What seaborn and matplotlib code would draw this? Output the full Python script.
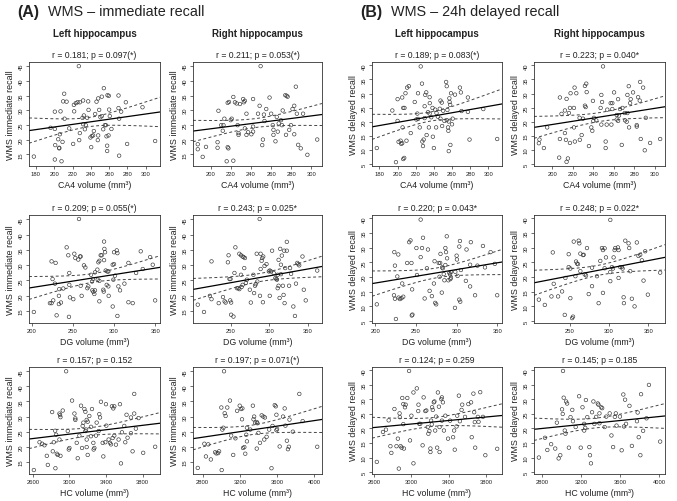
import matplotlib
matplotlib.use("Agg")
import matplotlib.pyplot as plt
import numpy as np
import pandas as pd
import seaborn as sns

# (volume, score) pairs
ca4_left_immediate = [
    (226.9, 45.0), (254.2, 37.5), (258.2, 35.1), (259.6, 34.9), (210.9, 35.6), (252.0, 34.6),
    (209.8, 33.0), (213.5, 32.9), (248.0, 34.0), (246.2, 32.9), (221.5, 31.8), (223.6, 32.4),
    (225.5, 32.7), (228.0, 32.7), (231.6, 33.3), (237.1, 33.0), (278.2, 32.7), (270.2, 35.0),
    (200.7, 29.5), (206.9, 29.6), (221.8, 29.6), (237.5, 30.1), (249.1, 30.1), (260.0, 30.2),
    (270.2, 30.7), (296.4, 31.0), (211.3, 27.1), (230.9, 27.4), (232.4, 28.2), (236.0, 27.4),
    (250.5, 27.6), (252.0, 28.0), (244.7, 28.7), (270.9, 27.1), (260.7, 28.0), (273.1, 29.5),
    (196.0, 24.0), (231.6, 25.2), (234.5, 24.9), (255.3, 24.9), (256.4, 24.9), (200.7, 23.6),
    (216.4, 23.8), (233.5, 23.5), (253.5, 23.5), (262.5, 23.6), (243.3, 22.9), (206.2, 21.8),
    (228.0, 22.2), (239.6, 20.7), (241.1, 21.2), (242.5, 21.4), (257.1, 21.1), (259.3, 21.4),
    (248.0, 21.4), (227.3, 19.8), (204.4, 20.1), (247.6, 19.8), (209.1, 19.2), (220.7, 18.5),
    (201.1, 18.1), (257.8, 17.9), (205.5, 17.2), (205.5, 17.0), (240.4, 17.4), (279.6, 18.5),
    (310.2, 19.5), (257.8, 16.1), (177.8, 14.2), (200.7, 13.2), (208.0, 12.6), (270.9, 14.5),
]
ca4_right_immediate = [
    (186.9, 18.4), (186.9, 16.7), (191.8, 14.1), (195.1, 17.5), (206.6, 19.1), (206.6, 17.2),
    (207.5, 29.8), (210.2, 24.9), (212.5, 24.9), (211.8, 23.0), (213.4, 27.1), (215.7, 12.6),
    (216.7, 17.4), (217.4, 17.0), (216.7, 32.5), (218.0, 32.8), (219.7, 26.6), (220.7, 27.1),
    (222.3, 12.8), (222.3, 34.5), (223.9, 32.7), (225.6, 32.3), (226.6, 24.9), (227.5, 22.2),
    (227.5, 21.6), (228.9, 32.1), (232.1, 33.8), (232.8, 32.7), (233.8, 33.2), (233.8, 23.8),
    (235.4, 21.6), (237.0, 22.5), (235.4, 28.8), (240.3, 21.8), (242.0, 22.7), (242.0, 24.4),
    (242.0, 33.8), (246.9, 28.8), (248.5, 31.5), (249.5, 45.0), (251.8, 20.0), (251.1, 18.1),
    (252.8, 28.5), (253.4, 26.3), (255.1, 30.4), (258.4, 34.3), (260.0, 28.8), (261.6, 24.9),
    (262.3, 23.3), (262.3, 21.6), (264.3, 19.4), (265.6, 27.7), (266.6, 22.7), (267.5, 25.5),
    (269.8, 26.6), (270.8, 24.9), (271.5, 29.9), (274.1, 35.1), (275.4, 34.9), (276.4, 34.6),
    (274.8, 21.6), (278.0, 23.3), (279.7, 24.9), (281.3, 30.4), (283.0, 31.5), (283.0, 21.8),
    (284.6, 38.0), (285.6, 28.8), (286.9, 18.2), (289.5, 17.0), (291.8, 28.8), (296.1, 14.8),
    (305.9, 20.0),
]
dg_left_immediate = [
    (257.6, 45.1), (202.8, 14.6), (224.3, 31.2), (229.2, 30.7), (225.5, 25.4), (228.4, 23.9),
    (226.3, 18.4), (224.3, 17.5), (222.3, 17.5), (230.4, 13.5), (233.2, 19.9), (233.2, 17.2),
    (235.7, 17.7), (233.6, 22.1), (238.5, 22.3), (242.6, 35.8), (244.6, 33.2), (245.8, 27.4),
    (245.8, 23.5), (246.6, 19.4), (245.4, 13.0), (250.7, 18.8), (251.9, 33.7), (253.1, 32.3),
    (256.7, 31.8), (258.8, 32.8), (259.6, 32.8), (259.6, 23.2), (260.8, 19.9), (263.6, 29.9),
    (265.3, 29.2), (267.7, 22.4), (268.9, 23.0), (272.2, 26.8), (273.4, 24.6), (274.6, 25.4),
    (273.8, 21.7), (275.0, 21.2), (277.0, 21.7), (276.2, 20.5), (277.0, 27.6), (279.9, 28.5),
    (281.1, 30.9), (282.3, 31.4), (280.3, 25.2), (282.3, 24.8), (282.3, 18.1), (283.9, 33.2),
    (285.1, 33.2), (287.1, 21.9), (287.6, 21.3), (288.0, 37.7), (288.4, 35.3), (289.2, 34.2),
    (288.0, 31.6), (290.0, 28.2), (292.0, 27.9), (293.2, 27.9), (293.2, 23.0), (291.2, 23.5),
    (293.6, 19.9), (299.3, 25.2), (300.1, 30.3), (298.5, 30.1), (300.1, 34.2), (303.4, 34.8),
    (304.2, 33.9), (301.3, 26.5), (298.5, 16.4), (304.2, 13.3), (305.4, 23.0), (307.4, 21.7),
    (312.7, 23.9), (317.6, 30.7), (317.6, 17.8), (322.8, 17.5), (326.9, 27.4), (332.5, 34.5),
    (335.0, 28.7), (343.9, 32.6), (347.1, 30.1), (350.0, 18.4),
]
dg_right_immediate = [
    (287.6, 45.1), (207.8, 17.0), (215.8, 14.6), (225.5, 31.2), (223.4, 19.9), (225.5, 18.8),
    (234.8, 17.5), (240.3, 19.5), (242.4, 18.1), (243.7, 17.7), (246.6, 30.9), (247.5, 33.2),
    (248.7, 25.4), (250.0, 25.4), (249.6, 18.4), (250.8, 17.7), (250.8, 13.7), (253.8, 13.1),
    (255.1, 27.4), (256.3, 35.8), (258.4, 22.4), (260.1, 22.4), (261.4, 22.1), (261.4, 33.7),
    (263.5, 33.2), (265.6, 32.8), (266.9, 32.6), (268.6, 32.3), (263.5, 26.8), (264.3, 22.8),
    (265.6, 23.5), (267.7, 29.0), (269.8, 24.1), (271.1, 25.2), (274.9, 21.9), (276.2, 17.7),
    (279.5, 26.8), (280.4, 20.8), (281.6, 23.2), (282.5, 23.7), (283.8, 33.7), (284.6, 24.6),
    (288.8, 33.7), (290.1, 31.4), (288.0, 19.9), (288.8, 28.7), (290.9, 32.3), (292.2, 32.8),
    (291.8, 17.8), (293.9, 29.7), (296.4, 30.3), (299.4, 27.9), (300.6, 28.2), (302.3, 27.9),
    (300.6, 19.9), (303.6, 34.7), (305.7, 27.4), (307.8, 25.7), (309.1, 25.4), (309.9, 25.2),
    (310.8, 22.4), (310.8, 26.8), (312.0, 31.7), (312.0, 23.2), (313.3, 19.2), (314.1, 35.3),
    (315.0, 27.0), (315.0, 30.1), (316.2, 33.1), (317.5, 23.2), (318.4, 20.2), (319.2, 34.7),
    (322.6, 34.7), (319.7, 17.5), (320.5, 29.0), (322.6, 37.6), (325.5, 23.2), (326.8, 29.0),
    (328.1, 27.1), (331.0, 16.4), (333.1, 13.3), (334.4, 23.9), (336.1, 30.7), (337.3, 30.3),
    (338.6, 29.9), (342.8, 32.8), (344.5, 21.9), (347.0, 18.4), (361.8, 28.2),
]
hc_left_immediate = [
    (2611, 12.3), (2673, 21.5), (2702, 21.0), (2727, 20.5), (2753, 17.0), (2764, 14.0),
    (2811, 31.5), (2818, 18.5), (2829, 21.5), (2844, 25.3), (2855, 24.0), (2862, 17.7),
    (2873, 17.3), (2847, 12.9), (2891, 31.0), (2898, 30.5), (2902, 29.8), (2891, 22.4),
    (2902, 17.0), (2927, 32.0), (2964, 45.0), (2982, 25.2), (2993, 19.1), (3000, 19.6),
    (3029, 35.3), (3055, 31.0), (3065, 29.4), (3065, 28.9), (3080, 21.3), (3091, 16.2),
    (3109, 23.7), (3127, 33.6), (3138, 19.6), (3145, 26.9), (3153, 28.0), (3164, 32.5),
    (3175, 31.6), (3175, 25.2), (3182, 25.7), (3189, 28.9), (3200, 28.3), (3189, 22.4),
    (3189, 19.9), (3200, 17.3), (3218, 30.2), (3236, 26.6), (3247, 32.5), (3236, 23.5),
    (3262, 21.3), (3265, 19.1), (3273, 19.6), (3291, 23.7), (3298, 28.0), (3320, 25.2),
    (3327, 30.8), (3335, 29.7), (3345, 34.9), (3364, 21.3), (3371, 16.8), (3393, 21.5),
    (3400, 34.1), (3404, 27.0), (3429, 22.4), (3444, 21.3), (3455, 20.8), (3465, 33.4),
    (3480, 32.7), (3491, 33.4), (3491, 23.7), (3473, 22.9), (3509, 20.7), (3538, 22.4),
    (3553, 34.1), (3564, 14.5), (3575, 24.8), (3600, 26.9), (3611, 21.5), (3625, 30.6),
    (3636, 23.0), (3673, 24.5), (3673, 29.7), (3691, 18.5), (3709, 31.0), (3727, 26.0),
    (3709, 37.5), (3756, 29.5), (3807, 18.0), (3938, 20.0),
]
hc_right_immediate = [
    (2747, 13.0), (2818, 21.0), (2835, 16.8), (2860, 20.8), (2888, 15.8), (2934, 18.2),
    (2948, 17.8), (2966, 17.9), (2977, 18.5), (3005, 12.3), (3001, 33.0), (3012, 25.7),
    (3023, 26.3), (3030, 45.0), (3037, 31.1), (3047, 30.2), (3065, 33.0), (3094, 35.3),
    (3107, 23.7), (3129, 17.3), (3153, 22.8), (3171, 31.9), (3199, 33.6), (3213, 32.5),
    (3228, 32.7), (3224, 29.1), (3235, 19.6), (3249, 19.9), (3259, 17.7), (3270, 24.0),
    (3277, 26.3), (3277, 21.8), (3313, 25.7), (3341, 33.6), (3348, 29.1), (3355, 30.0),
    (3365, 28.0), (3383, 28.2), (3390, 27.8), (3383, 19.4), (3401, 24.6), (3418, 21.3),
    (3436, 30.4), (3454, 30.0), (3471, 29.7), (3464, 22.4), (3489, 23.3), (3517, 25.7),
    (3542, 12.9), (3553, 26.9), (3577, 33.8), (3588, 33.4), (3595, 30.6), (3595, 25.5),
    (3602, 25.9), (3630, 20.1), (3666, 30.0), (3684, 32.7), (3692, 27.0), (3708, 22.0),
    (3719, 19.2), (3729, 20.0), (3736, 29.0), (3772, 25.0), (3842, 37.5), (3878, 28.5),
    (4035, 20.0),
]
ca4_left_delayed = [
    (225.5, 39.6), (253.5, 34.1), (254.2, 32.6), (268.7, 32.1), (269.8, 30.4), (226.9, 33.5),
    (210.5, 32.1), (212.4, 32.6), (208.7, 30.1), (200.0, 28.0), (205.1, 28.6), (222.5, 30.1),
    (230.5, 29.5), (231.6, 30.4), (235.3, 28.7), (258.9, 30.1), (263.3, 29.6), (257.1, 28.3),
    (247.3, 27.5), (248.7, 26.8), (218.9, 27.0), (229.8, 25.5), (235.5, 26.6), (238.5, 24.9),
    (241.5, 24.3), (246.5, 24.6), (257.3, 27.0), (258.0, 26.0), (277.5, 28.6), (206.2, 24.9),
    (207.6, 24.9), (194.2, 24.0), (221.8, 22.9), (233.5, 23.4), (235.3, 22.9), (242.9, 23.1),
    (250.2, 23.9), (254.9, 24.2), (200.0, 20.3), (220.7, 20.8), (222.5, 21.0), (229.8, 21.3),
    (237.1, 21.6), (244.4, 21.8), (251.6, 20.3), (254.2, 20.6), (256.4, 20.1), (247.3, 21.1),
    (260.7, 21.1), (270.5, 23.8), (277.5, 23.5), (294.5, 24.5), (205.5, 18.0), (224.4, 18.0),
    (234.5, 18.0), (242.5, 18.0), (249.1, 18.5), (255.6, 18.0), (256.0, 16.8), (260.0, 19.1),
    (214.5, 16.0), (232.0, 15.3), (238.9, 14.7), (203.3, 13.3), (201.1, 12.9), (204.0, 12.2),
    (205.1, 12.4), (209.8, 13.3), (227.3, 13.0), (228.7, 13.7), (228.0, 11.4), (240.0, 10.7),
    (256.4, 9.6), (258.2, 11.8), (279.3, 13.7), (309.8, 13.9), (177.1, 10.7), (207.3, 7.2),
    (206.2, 6.8), (198.2, 5.7),
]
ca4_right_delayed = [
    (249.5, 39.6), (285.7, 34.1), (221.8, 32.1), (231.9, 32.7), (233.2, 33.5), (274.6, 32.6),
    (288.6, 32.1), (217.9, 30.1), (223.5, 30.1), (233.6, 30.5), (247.9, 29.5), (260.3, 30.4),
    (273.3, 29.5), (278.8, 30.4), (207.5, 28.6), (214.0, 28.1), (248.6, 27.0), (264.2, 28.0),
    (257.0, 26.6), (258.6, 26.6), (276.5, 28.0), (275.9, 26.6), (283.7, 28.7), (285.3, 27.5),
    (239.7, 27.4), (212.4, 24.0), (217.3, 24.9), (221.2, 24.9), (231.9, 25.7), (232.6, 25.2),
    (216.3, 23.1), (209.1, 22.8), (247.2, 24.9), (253.7, 24.3), (258.6, 24.5), (266.1, 24.5),
    (268.4, 24.9), (270.7, 23.1), (273.3, 23.1), (262.9, 22.4), (265.1, 22.2), (226.7, 21.4),
    (230.0, 21.1), (240.7, 21.4), (240.1, 20.3), (243.0, 20.5), (262.9, 20.8), (264.2, 20.3),
    (271.0, 20.5), (272.6, 20.0), (291.2, 21.4), (195.1, 18.0), (221.2, 18.0), (238.1, 18.0),
    (239.1, 16.8), (247.9, 19.0), (253.1, 19.0), (257.7, 19.0), (274.9, 18.0), (282.4, 18.8),
    (282.4, 18.3), (228.7, 15.3), (212.4, 16.0), (207.5, 13.9), (213.4, 13.6), (217.3, 12.5),
    (222.1, 13.0), (226.9, 13.6), (187.6, 13.7), (187.0, 12.4), (191.9, 10.7), (235.8, 11.4),
    (252.1, 13.0), (252.1, 10.7), (267.8, 11.8), (286.3, 13.9), (290.2, 9.9), (295.4, 12.5),
    (305.2, 13.9), (206.8, 7.3), (215.3, 7.0), (214.0, 5.8),
]
dg_left_delayed = [
    (255.9, 39.6), (202.0, 10.7), (225.5, 5.7), (223.5, 28.5), (228.4, 27.7), (224.3, 23.9),
    (227.2, 20.2), (223.1, 13.8), (224.3, 12.6), (228.8, 13.0), (230.4, 12.5), (232.4, 12.8),
    (234.5, 13.3), (233.2, 17.8), (239.3, 24.8), (244.6, 24.8), (241.8, 31.9), (243.4, 32.5),
    (245.4, 15.8), (245.8, 7.2), (245.0, 6.9), (250.7, 29.9), (255.9, 26.8), (257.6, 29.9),
    (258.8, 33.4), (251.4, 20.7), (260.8, 12.7), (264.9, 29.4), (263.6, 23.0), (266.9, 15.3),
    (269.7, 13.5), (272.2, 17.8), (273.8, 11.2), (275.0, 10.7), (273.0, 25.4), (278.2, 24.8),
    (279.9, 24.8), (279.1, 20.1), (280.3, 27.9), (282.3, 23.3), (283.1, 23.0), (281.9, 14.7),
    (284.3, 21.0), (286.3, 29.9), (287.1, 28.5), (288.0, 33.9), (288.4, 26.4), (286.3, 24.1),
    (291.2, 21.4), (292.0, 20.9), (293.2, 21.7), (292.4, 19.3), (293.2, 19.8), (290.0, 18.9),
    (285.1, 18.9), (298.5, 21.8), (300.5, 26.0), (300.1, 27.3), (301.3, 20.4), (303.4, 30.4),
    (304.2, 32.3), (298.1, 9.5), (303.4, 12.3), (304.6, 11.6), (305.4, 22.4), (311.5, 18.7),
    (312.3, 29.4), (316.7, 24.2), (316.7, 16.8), (317.6, 31.9), (322.8, 13.8), (325.7, 23.9),
    (332.5, 30.6), (335.0, 23.3), (341.9, 28.5), (347.1, 24.5), (350.0, 13.8),
]
dg_right_delayed = [
    (210.8, 12.3), (218.4, 10.5), (226.8, 13.4), (228.5, 28.4), (229.7, 17.7), (235.2, 13.4),
    (240.3, 15.1), (243.7, 7.1), (248.7, 27.8), (248.7, 23.4), (250.8, 22.9), (250.8, 12.8),
    (253.0, 6.0), (254.2, 6.5), (255.1, 32.1), (258.0, 25.3), (259.3, 24.6), (260.5, 24.4),
    (261.4, 32.4), (262.2, 31.5), (263.5, 28.0), (263.5, 22.0), (266.9, 27.5), (267.7, 27.6),
    (269.0, 20.9), (270.7, 20.6), (271.9, 29.9), (274.1, 14.2), (278.3, 16.9), (278.3, 23.2),
    (284.6, 20.3), (257.2, 20.3), (244.5, 19.7), (286.7, 11.1), (288.8, 25.5), (290.9, 29.9),
    (292.2, 29.2), (294.3, 29.8), (294.3, 23.0), (292.2, 14.6), (296.0, 26.7), (301.5, 39.5),
    (301.5, 18.6), (301.5, 21.7), (303.6, 23.4), (304.9, 22.9), (305.7, 26.7), (307.8, 29.9),
    (307.0, 29.2), (311.2, 30.1), (312.0, 29.2), (312.0, 19.7), (314.1, 23.4), (316.2, 23.4),
    (317.1, 22.9), (318.4, 13.1), (318.8, 11.1), (320.5, 32.4), (324.7, 31.5), (325.5, 29.9),
    (326.8, 22.0), (328.9, 12.6), (332.3, 10.0), (335.2, 31.8), (337.3, 27.2), (339.5, 27.6),
    (341.6, 25.7), (343.7, 18.8), (345.8, 28.8), (349.2, 14.0), (364.8, 21.5),
]
hc_left_delayed = [
    (2629, 8.5), (2695, 18.8), (2727, 19.6), (2756, 22.8), (2775, 13.9), (2785, 11.6),
    (2818, 26.7), (2840, 13.9), (2855, 16.5), (2865, 6.2), (2873, 25.2), (2876, 23.9),
    (2884, 13.9), (2895, 13.4), (2902, 30.5), (2913, 28.4), (2913, 21.5), (2920, 13.1),
    (2931, 27.3), (2938, 28.2), (2956, 30.5), (2975, 39.8), (2985, 15.9), (3000, 24.4),
    (3022, 8.0), (3022, 32.4), (3058, 33.8), (3073, 26.0), (3076, 28.2), (3084, 21.6),
    (3095, 21.6), (3120, 14.2), (3131, 30.7), (3149, 26.0), (3160, 26.2), (3175, 20.5),
    (3182, 18.2), (3193, 19.1), (3204, 13.1), (3204, 11.9), (3211, 22.7), (3218, 21.4),
    (3222, 27.3), (3229, 26.4), (3240, 29.0), (3247, 29.3), (3255, 19.3), (3265, 24.1),
    (3276, 13.4), (3284, 32.4), (3295, 27.5), (3302, 11.9), (3302, 20.5), (3320, 30.1),
    (3327, 30.7), (3338, 29.0), (3327, 22.7), (3349, 19.3), (3364, 24.4), (3393, 16.5),
    (3415, 22.7), (3447, 17.0), (3458, 19.3), (3465, 12.7), (3484, 20.7), (3491, 24.4),
    (3509, 31.3), (3520, 22.5), (3538, 26.4), (3545, 28.2), (3575, 24.0), (3611, 28.4),
    (3640, 29.0), (3647, 17.0), (3665, 32.0), (3673, 25.6), (3680, 22.2), (3684, 13.4),
    (3713, 24.0), (3720, 22.3), (3738, 32.5), (3767, 24.0), (3793, 10.8), (3920, 13.0),
]
hc_right_delayed = [
    (2765, 10.0), (2828, 16.8), (2852, 12.6), (2891, 14.6), (2933, 13.1), (2950, 22.0),
    (2968, 9.7), (2985, 10.8), (3003, 26.6), (3010, 25.0), (3013, 39.8), (3020, 30.6),
    (3031, 19.3), (3038, 18.2), (3045, 29.3), (3055, 28.6), (3073, 13.4), (3090, 23.9),
    (3108, 26.4), (3115, 22.5), (3143, 20.5), (3178, 31.1), (3195, 13.4), (3213, 27.3),
    (3230, 21.6), (3230, 19.3), (3241, 20.2), (3248, 29.8), (3262, 23.9), (3283, 13.6),
    (3290, 10.8), (3300, 8.0), (3311, 25.6), (3325, 29.3), (3335, 21.6), (3353, 24.0),
    (3370, 28.6), (3377, 28.2), (3387, 25.2), (3387, 21.8), (3405, 27.3), (3415, 27.0),
    (3440, 20.5), (3457, 24.1), (3492, 25.2), (3510, 17.6), (3527, 13.6), (3545, 24.0),
    (3555, 25.2), (3562, 21.0), (3597, 24.1), (3615, 12.5), (3632, 31.7), (3650, 29.9),
    (3639, 20.7), (3660, 21.6), (3695, 27.8), (3720, 14.0), (3772, 22.5), (3779, 25.5),
    (3790, 17.0), (3807, 10.8), (3814, 31.8), (3835, 19.2), (3870, 23.5), (3895, 35.0),
    (4010, 15.5),
]

stats_immediate = [
    ["r = 0.181; p = 0.097(*)", "r = 0.211; p = 0.053(*)"],
    ["r = 0.209; p = 0.055(*)", "r = 0.243; p = 0.025*"],
    ["r = 0.157; p = 0.152", "r = 0.197; p = 0.071(*)"],
]
stats_delayed = [
    ["r = 0.189; p = 0.083(*)", "r = 0.223; p = 0.040*"],
    ["r = 0.220; p = 0.043*", "r = 0.248; p = 0.022*"],
    ["r = 0.124; p = 0.259", "r = 0.145; p = 0.185"],
]
x_labels = ["CA4 volume (mm³)", "DG volume (mm³)", "HC volume (mm³)"]
x_ticks = [
    [np.arange(180, 301, 20), np.arange(200, 301, 20)],
    [np.arange(200, 351, 50), np.arange(250, 351, 50)],
    [np.arange(2600, 3801, 400), np.arange(2800, 4001, 400)],
]
groups = [
    ("(A)", "WMS – immediate recall", "WMS immediate recall", np.arange(15, 46, 5),
     [[ca4_left_immediate, ca4_right_immediate],
      [dg_left_immediate, dg_right_immediate],
      [hc_left_immediate, hc_right_immediate]], stats_immediate),
    ("(B)", "WMS – 24h delayed recall", "WMS delayed recall", np.arange(5, 41, 5),
     [[ca4_left_delayed, ca4_right_delayed],
      [dg_left_delayed, dg_right_delayed],
      [hc_left_delayed, hc_right_delayed]], stats_delayed),
]

W, H = 677, 502
col_px = [[(29, 160), (193, 322)], [(372, 502), (534, 665)]]
row_px = [(63, 167), (216, 324), (368, 475)]
INK = "#222222"

sns.set_style("ticks")
plt.rcParams["font.family"] = ["Liberation Sans", "DejaVu Sans"]


def r_range(values, frac=0.04):
    # R's default axis expansion
    lo, hi = float(np.min(values)), float(np.max(values))
    pad = (hi - lo) * frac
    return lo - pad, hi + pad


def conf_band(x, y, grid, t_crit=1.99):
    slope, intercept = np.polyfit(x, y, 1)
    fit = intercept + slope * grid
    resid = y - (intercept + slope * x)
    s = np.sqrt(np.sum(resid ** 2) / (len(x) - 2))
    se = s * np.sqrt(1 / len(x) + (grid - x.mean()) ** 2 / np.sum((x - x.mean()) ** 2))
    return fit - t_crit * se, fit + t_crit * se


def draw_panel(ax, pairs, xticks, yticks, ylim, xlabel, ylabel, stat):
    df = pd.DataFrame(pairs, columns=["volume", "score"])
    ax.set_xlim(r_range(df["volume"]))
    ax.set_ylim(ylim)
    sns.regplot(data=df, x="volume", y="score", ax=ax, ci=None, truncate=False, color=INK,
                scatter_kws=dict(s=6.5, facecolors="none", edgecolors="#333333",
                                 linewidths=0.45, alpha=1),
                line_kws=dict(lw=0.9, color="black"))
    grid = np.linspace(*ax.get_xlim(), 200)
    lo, hi = conf_band(df["volume"].to_numpy(), df["score"].to_numpy(), grid)
    for band in (lo, hi):
        ax.plot(grid, band, color="#444444", lw=0.7, ls=(0, (3, 2.5)))

    ax.set_xticks(xticks)
    ax.set_yticks(yticks)
    ax.tick_params(length=2.2, width=0.5, pad=1.5, labelsize=4.2, color="#333333",
                   labelcolor=INK)
    for lab in ax.get_yticklabels():
        lab.set_rotation(90)
        lab.set_va("center")
    for side in ax.spines.values():
        side.set_visible(True)
        side.set_linewidth(0.6)
        side.set_color("#333333")
    ax.set_xlabel(xlabel, fontsize=6.3, labelpad=2.5, color=INK)
    ax.set_ylabel(ylabel, fontsize=6.4, labelpad=3, color=INK)
    ax.set_title(stat, fontsize=6.2, pad=3.5, color=INK)


fig = plt.figure(figsize=(W / 100, H / 100), dpi=100)

for g, (tag, title, ylabel, yticks, rows, stats) in enumerate(groups):
    all_scores = [p[1] for row in rows for panel in row for p in panel]
    ylim = r_range(all_scores)
    for r, row in enumerate(rows):
        for c, pairs in enumerate(row):
            x0, x1 = col_px[g][c]
            top, bottom = row_px[r]
            ax = fig.add_axes([x0 / W, 1 - bottom / H, (x1 - x0) / W, (bottom - top) / H])
            draw_panel(ax, pairs, x_ticks[r][c], yticks, ylim, x_labels[r], ylabel, stats[r][c])

    for c, name in enumerate(["Left hippocampus", "Right hippocampus"]):
        x0, x1 = col_px[g][c]
        fig.text((x0 + x1) / 2 / W, 1 - 34 / H, name, ha="center", va="center",
                 fontsize=7, fontweight="bold", color=INK)

    left = col_px[g][0][0]
    fig.text((left - 12) / W, 1 - 12 / H, tag, ha="left", va="center",
             fontsize=11.5, fontweight="bold", color=INK)
    fig.text((left + 19) / W, 1 - 12 / H, title, ha="left", va="center",
             fontsize=10.4, color=INK)

fig.savefig("out.png", dpi=100)
